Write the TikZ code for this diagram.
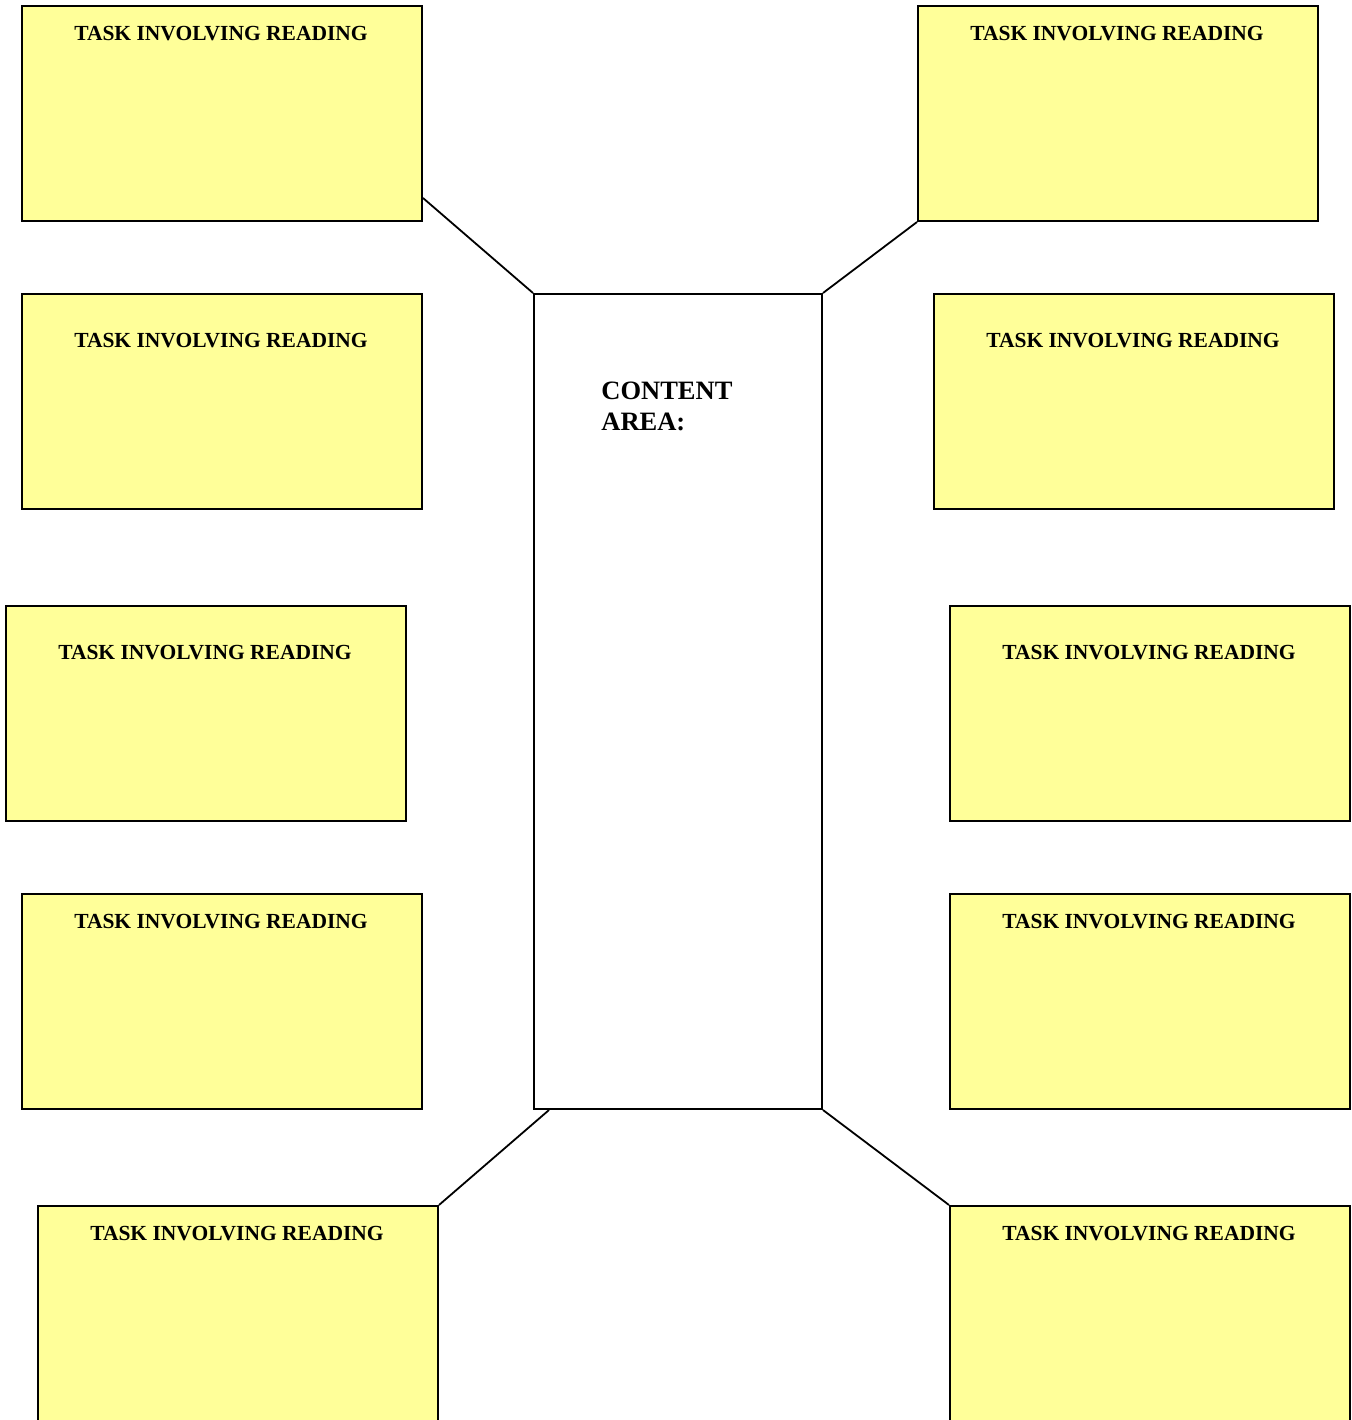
\documentclass[tikz,border=0pt]{standalone}
\usepackage{fontspec}
\setmainfont{Liberation Serif}
\usetikzlibrary{calc}
\definecolor{notepad}{HTML}{FFFF99}
\tikzset{
  taskbox/.style={draw=black, fill=notepad, line width=1pt, rectangle,
    minimum width=200pt, minimum height=107.5pt, inner sep=0pt},
  hubbox/.style={draw=black, fill=white, line width=1pt, rectangle,
    minimum width=144pt, minimum height=407.5pt, inner sep=0pt},
  tasktitle/.style={anchor=base, inner sep=0pt,
    font=\fontsize{10.75pt}{13pt}\selectfont\bfseries},
  hubtitle/.style={anchor=base west, inner sep=0pt,
    font=\fontsize{13.25pt}{15pt}\selectfont\bfseries},
  link/.style={draw=black, line width=0.9pt}
}
\begin{document}
\begin{tikzpicture}[x=0.5pt, y=-0.5pt]
  \useasboundingbox (0,0) rectangle (1352,1420);
  \clip (0,0) rectangle (1352,1420);

  % central content area
  \node[hubbox] (hub) at (678,701.5) {};
  \node[hubtitle] (hubA) at ($(hub.north west)+(68,106)$) {CONTENT};
  \node[hubtitle] (hubB) at ($(hub.north west)+(68,137)$) {AREA:};

  % reading tasks, left column
  \node[taskbox] (l1) at (222,113.5) {};
  \node[taskbox] (l2) at (222,401.5) {};
  \node[taskbox] (l3) at (206,713.5) {};
  \node[taskbox] (l4) at (222,1001.5) {};
  \node[taskbox] (l5) at (238,1313.5) {};
  % reading tasks, right column
  \node[taskbox] (r1) at (1118,113.5) {};
  \node[taskbox] (r2) at (1134,401.5) {};
  \node[taskbox] (r3) at (1150,713.5) {};
  \node[taskbox] (r4) at (1150,1001.5) {};
  \node[taskbox] (r5) at (1150,1313.5) {};

  % box headings: first line sits lower in the middle rows
  \foreach \b in {l1,l4,l5,r1,r4,r5}
    \node[tasktitle] (\b-title) at ($(\b.north)+(-1,35)$) {TASK INVOLVING READING};
  \foreach \b in {l2,l3,r2,r3}
    \node[tasktitle] (\b-title) at ($(\b.north)+(-1,54)$) {TASK INVOLVING READING};

  % connectors to the hub
  \draw[link] ($(l1.south east)+(0,-24)$) -- (hub.north west);
  \draw[link] (r1.south west) -- (hub.north east);
  \draw[link] ($(l2.east)+(0,11.5)$) -- ($(l2.east)+(0,11.5)$ -| hub.west);
  \draw[link] ($(r2.west)+(0,11.5)$) -- ($(r2.west)+(0,11.5)$ -| hub.east);
  \draw[link] ($(l3.east)+(0,-11.5)$) -- ($(l3.east)+(0,-11.5)$ -| hub.west);
  \draw[link] ($(r3.west)+(0,-11.5)$) -- ($(r3.west)+(0,-11.5)$ -| hub.east);
  \draw[link] ($(l4.east)+(0,-11.5)$) -- ($(l4.east)+(0,-11.5)$ -| hub.west);
  \draw[link] ($(r4.west)+(0,-11.5)$) -- ($(r4.west)+(0,-11.5)$ -| hub.east);
  \draw[link] ($(hub.south west)+(16,0)$) -- (l5.north east);
  \draw[link] (hub.south east) -- (r5.north west);
\end{tikzpicture}
\end{document}
